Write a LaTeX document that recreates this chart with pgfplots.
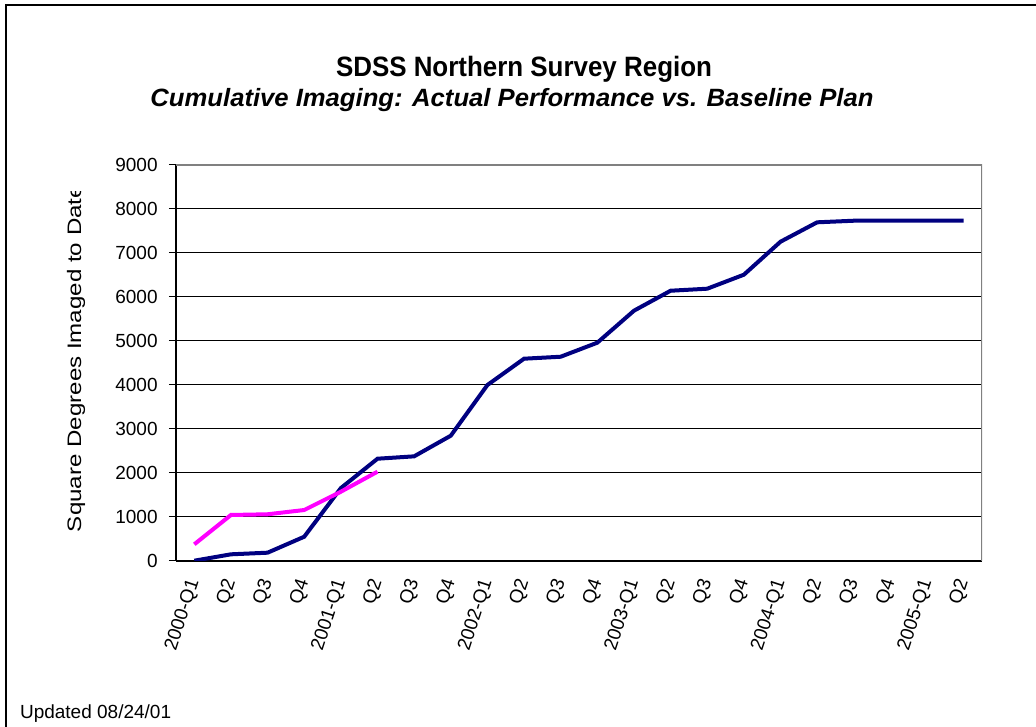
\documentclass[border=0pt]{standalone}
\usepackage{fontspec}
\setmainfont{Liberation Sans}
\usepackage{graphicx}
\usepackage{pgfplots}
\pgfplotsset{compat=1.18}
\definecolor{plannavy}{RGB}{0,0,128}
\definecolor{actmag}{RGB}{255,0,255}
\definecolor{frgray}{RGB}{128,128,128}

\begin{document}
\begin{tikzpicture}
\path[use as bounding box] (0,0) rectangle (518bp,363.5bp);
% outer chart frame (only left and top edges show)
\draw[line width=1bp] (3bp,0) -- (3bp,361.2bp) -- (518bp,361.2bp);
\node[anchor=base] at (262bp,325bp) {\resizebox{188bp}{\height}{\fontsize{14bp}{16bp}\selectfont\bfseries SDSS Northern Survey Region}};
\node[anchor=base] at (256bp,310bp) {\resizebox{361.5bp}{\height}{\fontsize{12.5bp}{14bp}\selectfont\bfseries\itshape Cumulative Imaging: Actual Performance vs. Baseline Plan}};
\begin{scope}
\clip (0,0) rectangle (150bp,267.5bp);
\node[rotate=90] at (38bp,184.25bp) {\resizebox{173.5bp}{\height}{\fontsize{9.75bp}{11bp}\selectfont Square Degrees Imaged to Date}};
\end{scope}
\node[anchor=base west] at (6.5bp,4.5bp) {\fontsize{9.5bp}{11bp}\selectfont Updated 08/24/01};

\begin{axis}[
  at={(88bp,83.15bp)}, anchor=south west,
  width=403bp, height=198bp, scale only axis,
  xmin=-0.5, xmax=21.5, ymin=0, ymax=9000,
  axis lines*=left,
  axis line style={line width=1.1bp, black},
  xtick={0,...,21},
  xticklabels={2000-Q1,Q2,Q3,Q4,2001-Q1,Q2,Q3,Q4,2002-Q1,Q2,Q3,Q4,2003-Q1,Q2,Q3,Q4,2004-Q1,Q2,Q3,Q4,2005-Q1,Q2},
  x tick style={draw=none},
  xticklabel shift=6bp,
  xticklabel style={rotate=72, anchor=east, inner sep=0pt, font=\fontsize{9.5bp}{11bp}\selectfont},
  ytick={0,1000,...,9000},
  y tick style={black, line width=0.6bp},
  tick align=outside, major tick length=3.5bp,
  yticklabel shift=5.5bp,
  yticklabel style={inner sep=0pt, font=\fontsize{9.5bp}{11bp}\selectfont},
  ymajorgrids, grid style={black, line width=0.5bp},
  /pgf/number format/assume math mode=true,
  /pgf/number format/1000 sep={},
  scaled y ticks=false,
]
\draw[frgray, line width=0.9bp] (rel axis cs:0,1) -- (rel axis cs:1,1) -- (rel axis cs:1,0);
\addplot[plannavy, line width=2bp] coordinates {
(0,0) (1,145) (2,182) (3,545) (4,1650) (5,2318) (6,2372) (7,2841)
(8,3993) (9,4591) (10,4636) (11,4955) (12,5682) (13,6136) (14,6182)
(15,6500) (16,7250) (17,7691) (18,7727) (19,7727) (20,7727) (21,7727)};
\addplot[actmag, line width=2bp] coordinates {
(0,373) (1,1039) (2,1055) (3,1152) (4,1568) (5,2023)};
\end{axis}
\end{tikzpicture}
\end{document}
